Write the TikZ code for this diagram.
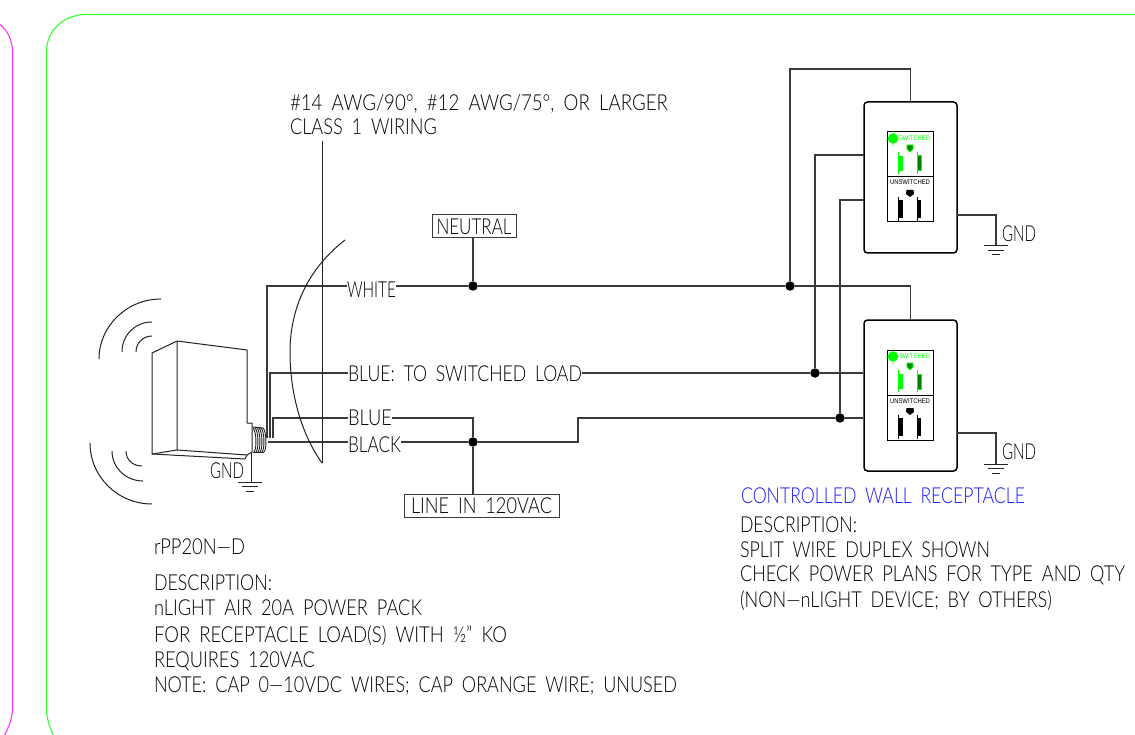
\documentclass[tikz,border=0pt]{standalone}
\usepackage{fontspec}
\usepackage{graphicx}
\setmainfont{Lato Light}[WordSpace=1.8]
\newfontfamily\smallf{Liberation Sans}
\usetikzlibrary{calc}
\definecolor{wire}{HTML}{3A3A3A}
\definecolor{pack}{HTML}{222222}
\definecolor{bluetxt}{HTML}{1A1AFF}
\definecolor{grn}{HTML}{00FF00}
\definecolor{framegrn}{HTML}{33FF33}
\definecolor{framemag}{HTML}{FF33FF}
\newcommand{\tx}[2]{\setbox0\hbox{#2}\pgfmathsetmacro{\myr}{#1/\the\wd0}\scalebox{\myr}[1]{\box0}}
\tikzset{
 x=1pt,y=-1pt,
 wireln/.style={draw=wire,line width=1.2pt},
 thinln/.style={draw=pack,line width=1pt},
 lbl/.style={anchor=base west,inner sep=0pt,outer sep=0pt,yshift=-.8pt,font=\fontsize{22}{22}\selectfont,text=black},
 smalllbl/.style={anchor=base west,inner sep=0pt,outer sep=0pt,font=\smallf\fontsize{6.8}{7}\selectfont},
 boxlbl/.style={draw=wire,line width=1pt,inner sep=0pt,minimum height=23pt,anchor=center,font=\fontsize{22}{22}\selectfont},
 dotj/.style={circle,fill=black,inner sep=0pt,minimum size=9.5pt},
 plate/.style={draw=black,line width=1.5pt,rounded corners=3.5pt},
}
\newcommand{\recept}[1]{%
\begin{scope}[shift={(0,#1)}]
 \draw[draw=black,line width=1pt] (887,132) rectangle (933,222);
 \draw[draw=black,line width=1pt] (887,177) -- (933,177);
 \fill[grn] (893,138.5) circle (5.2);
 \draw[grn,line width=.7pt] (893,131) -- (893,146) (886,140) -- (899,138);
 \node[smalllbl,text=grn] at (899,140.5) {\tx{31}{SWITCHED}};
 \node[smalllbl,text=black] at (890,185) {\tx{40}{UNSWITCHED}};
 \fill[grn!55!black] (907,145) -- (913,145) -- (913,149) -- (910,152) -- (907,149) -- cycle;
 \draw[grn,line width=.8pt] (907,145) -- (913,145) -- (913,149) -- (910,152) -- (907,149) -- cycle;
 \fill[grn] (898,156) rectangle (903,171);
 \draw[grn,line width=.7pt] (898,152) -- (898,174);
 \fill[grn!50!black] (917,156) rectangle (921,171);
 \draw[grn,line width=1pt] (917,156) rectangle (921,171);
 \draw[grn,line width=.7pt] (917,152) -- (917,174);
 \fill[black] (906.5,190) -- (913.5,190) -- (914,194) -- (910,197) -- (906,194) -- cycle;
 \fill[black] (898,200) rectangle (903,218);
 \draw[black,line width=.7pt] (898,197) -- (898,221);
 \fill[black] (917,200) rectangle (921,218);
 \draw[black,line width=.7pt] (917,197) -- (917,221);
\end{scope}}
\newcommand{\gnd}[2]{%
 \draw[thinln] (#1-12,#2) -- ++(24,0);
 \draw[thinln] (#1-8,#2+4.5) -- ++(16,0);
 \draw[thinln] (#1-4,#2+9) -- ++(8,0);}
\begin{document}
\begin{tikzpicture}
\useasboundingbox (0,0) rectangle (1135,735);
% page frames
\draw[framegrn,line width=1.1pt] (54,736) .. controls (49,726) and (46.5,718) .. (46.5,708) -- (46.5,52) .. controls (46.5,30) and (64,14.5) .. (86,14.5) -- (1136,14.5);
\draw[framemag,line width=1.1pt] (-1,24) .. controls (7,29) and (12.5,40) .. (12.5,52) -- (12.5,708) .. controls (12.5,718) and (9,727) .. (4,736);
% plates
\node[plate,minimum width=93pt,minimum height=151pt,inner sep=0pt] (p1) at (910.5,177.5) {};
\node[plate,minimum width=93pt,minimum height=151pt,inner sep=0pt] (p2) at (910.5,395.5) {};
\recept{0}
\recept{218}
% labels
\node[lbl] (t1) at (290,110) {\tx{378}{\#14 AWG/90°, \#12 AWG/75°, OR LARGER}};
\node[lbl] (t2) at (290,134) {\tx{147}{CLASS 1 WIRING}};
\node[boxlbl,minimum width=84pt] (neutral) at (474,226.5) {\tx{75}{NEUTRAL}};
\node[boxlbl,minimum width=155pt] (linein) at (481.5,506) {\tx{141}{LINE IN 120VAC}};
\node[lbl] (white) at (347,297) {\tx{49}{WHITE}};
\node[lbl] (bsw) at (348,381) {\tx{234}{BLUE: TO SWITCHED LOAD}};
\node[lbl] (blue) at (348,424.5) {\tx{44}{BLUE}};
\node[lbl] (black) at (348,451.5) {\tx{53}{BLACK}};
\node[lbl] (g0) at (210,478) {\tx{34}{GND}};
\node[lbl] (g1) at (1002,241) {\tx{34}{GND}};
\node[lbl] (g2) at (1002,458.5) {\tx{34}{GND}};
\node[lbl] (a0) at (154,553.5) {\tx{91}{rPP20N—D}};
\node[lbl] (a1) at (154,590) {\tx{118}{DESCRIPTION:}};
\node[lbl] (a2) at (154,615) {\tx{268}{nLIGHT AIR 20A POWER PACK}};
\node[lbl] (a3) at (154,642) {\tx{353}{FOR RECEPTACLE LOAD(S) WITH ½" KO}};
\node[lbl] (a4) at (154,667) {\tx{161}{REQUIRES 120VAC}};
\node[lbl] (a5) at (154,692) {\tx{523}{NOTE: CAP 0—10VDC WIRES; CAP ORANGE WIRE; UNUSED}};
\node[lbl,text=bluetxt] (b0) at (741,503) {\tx{284}{CONTROLLED WALL RECEPTACLE}};
\node[lbl] (b1) at (740,532) {\tx{117}{DESCRIPTION:}};
\node[lbl] (b2) at (740,557) {\tx{250}{SPLIT WIRE DUPLEX SHOWN}};
\node[lbl] (b3) at (740,581) {\tx{385}{CHECK POWER PLANS FOR TYPE AND QTY}};
\node[lbl] (b4) at (740,607) {\tx{312}{(NON—nLIGHT DEVICE; BY OTHERS)}};
% junctions
\node[dotj] (jn) at (473,286) {};
\node[dotj] (jw) at (790,286) {};
\node[dotj] (js) at (815,373) {};
\node[dotj] (jb) at (840,418) {};
\node[dotj] (jl) at (473,442) {};
\coordinate (pk1) at (267,438);
\coordinate (pk2) at (270,438);
\coordinate (pk3) at (273,438);
\coordinate (pk4) at (268,442);
\coordinate (cond) at (322,141);
% wires
\draw[wireln] (pk1) -- (267,286) -- (white.west |- jn);
\draw[wireln] (white.east |- jn) -- (jn) -- (jw) -| (p2.north);
\draw[wireln] (jw) |- (790,69) -| (p1.north);
\draw[wireln] (jn) -- (jn |- neutral.south);
\draw[wireln] (pk2) -- (270,373) -- (bsw.west |- js);
\draw[wireln] (bsw.east |- js) -- (js) -- (js -| p2.west);
\draw[wireln] (js) |- (864,155);
\draw[wireln] (pk3) -- (273,418) -- (blue.west |- 0,418);
\draw[wireln] (blue.east |- 0,418) -| (jl);
\draw[wireln] (pk4) -- (black.west |- jl);
\draw[wireln] (black.east |- jl) -- (jl) -- (578,442) -- (578,418) -- (jb) -- (jb -| p2.west);
\draw[wireln] (jb) |- (864,200);
\draw[wireln] (jl) -- (jl |- linein.north);
% grounds
\draw[wireln] (957,215) -| (996,246); \gnd{996}{246}
\draw[wireln] (957,433) -| (996,464); \gnd{996}{464}
% conduit leader and arc
\draw[thinln] (cond) -- (322,463);
\draw[thinln] (345,240) .. controls (300,275) and (290,320) .. (290,352) .. controls (290,395) and (302,435) .. (322,463);
% power pack
\draw[thinln,line join=round,fill=white] (152,353) -- (177,341) -- (247,350) -- (247,423) -- (252,423) -- (252,452) -- (247,455) -- (245,459) -- (152,454) -- cycle;
\draw[thinln] (177,341) -- (177,450) -- (152,454);
\draw[thinln] (177,450) -- (247,455);
% threads
\foreach \xx in {253,255,257,259,261,263}{
 \draw[draw=pack,line width=.9pt] (\xx,428) .. controls (\xx+3.5,431) and (\xx+4,449) .. (\xx+1,452);
}
\draw[thinln] (253,427) -- (263,428);
\draw[thinln] (253,452) -- (264,452);
% ground of pack
\draw[thinln] (251,452) -- (251,482); \gnd{250}{482}
% radio arcs
\draw[thinln] (161,299) .. controls (127,299) and (99,326) .. (99,359);
\draw[thinln] (152,322) .. controls (135,322) and (122,335) .. (122,352);
\draw[thinln] (152,336) .. controls (143,336) and (136,343) .. (136,352);
\draw[thinln] (90,443) .. controls (90,477) and (118,504) .. (152,504);
\draw[thinln] (112,451) .. controls (112,468) and (126,481) .. (143,481);
\draw[thinln] (126,451) .. controls (126,460) and (133,466) .. (142,466);
\end{tikzpicture}
\end{document}
